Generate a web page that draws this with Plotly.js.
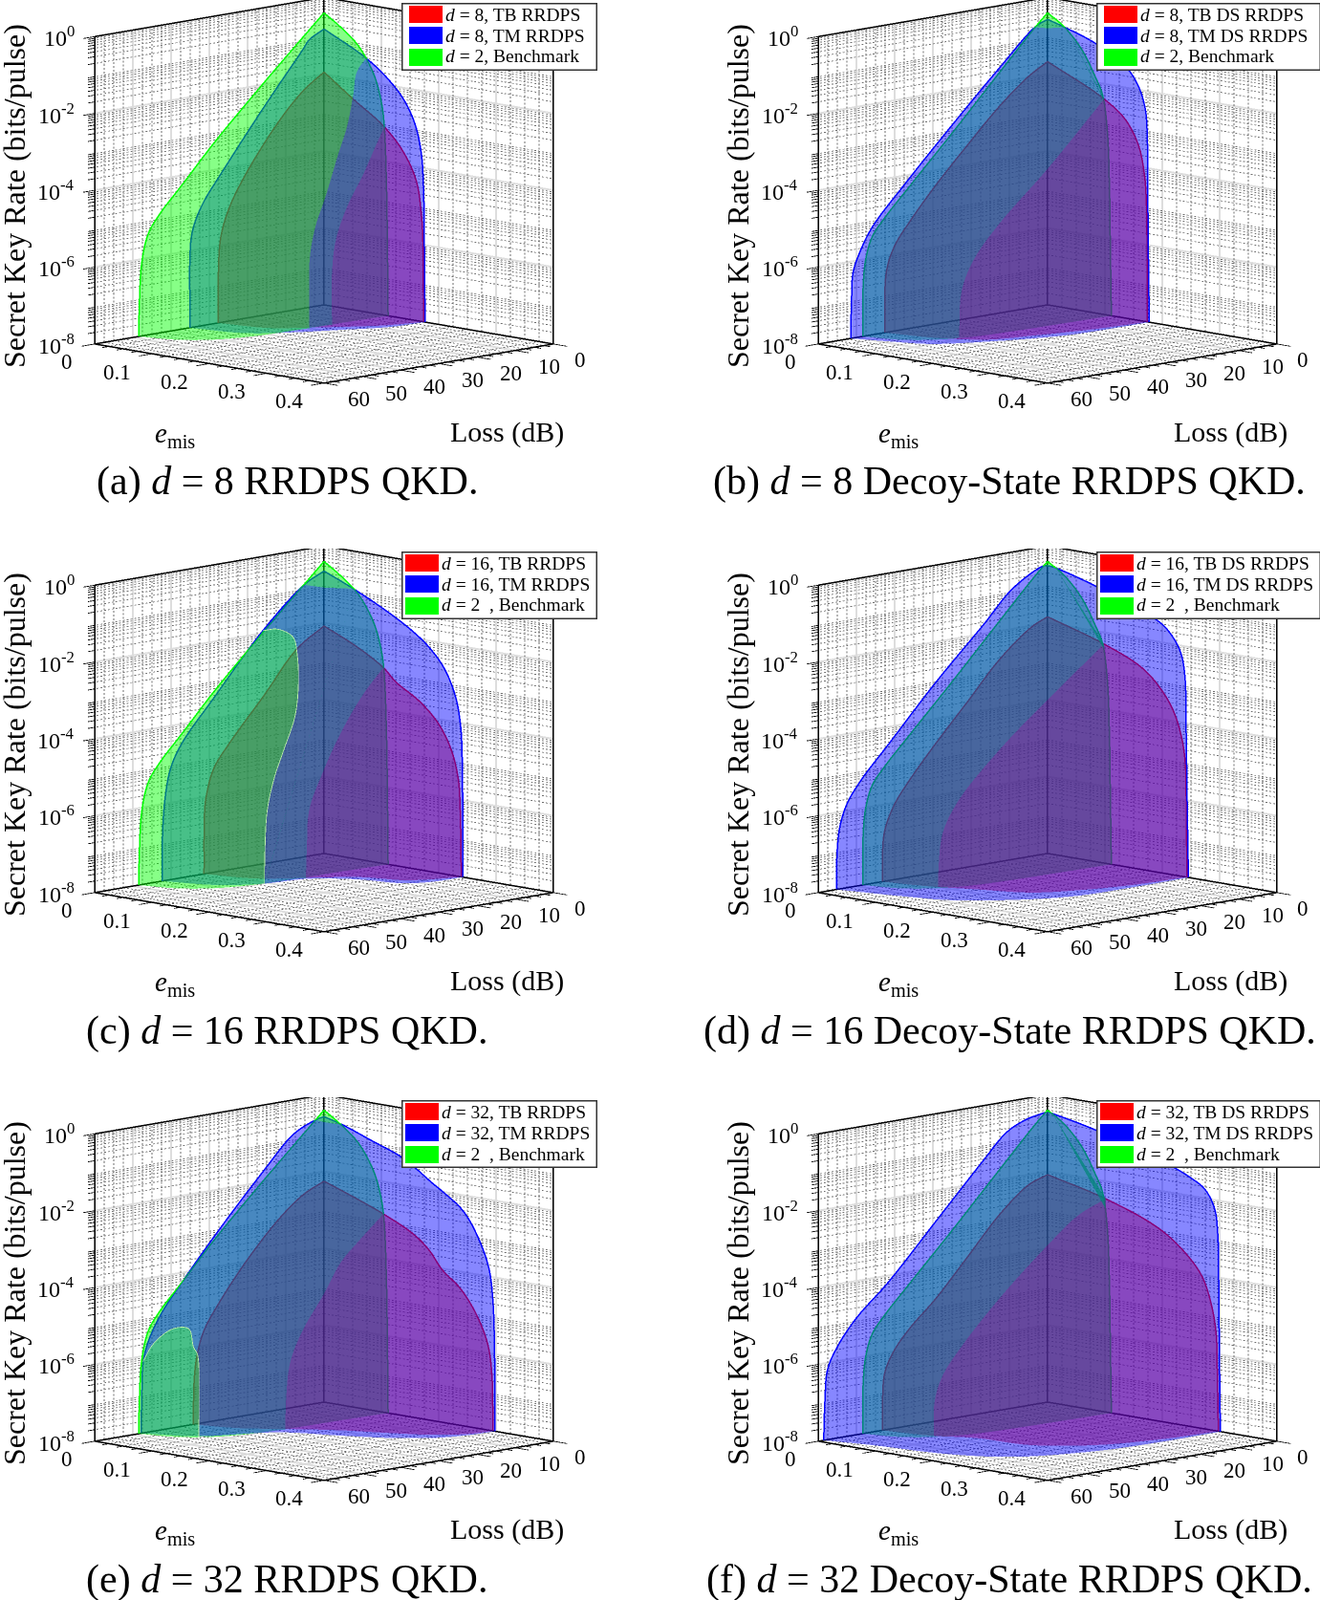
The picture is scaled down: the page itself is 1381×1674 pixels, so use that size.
<!DOCTYPE html>
<html><head><meta charset="utf-8">
<script src="https://cdn.plot.ly/plotly-3.0.1.min.js"></script>
<style>html,body{margin:0;padding:0;background:#fff}</style></head>
<body><div id="chart" style="width:1381px;height:1674px"></div>
<script>
// ---------- axes ----------
const lossTicks=[0,10,20,30,40,50,60];
const emisTicks=[0,0.1,0.2,0.3,0.4];
const rateExponents=[-8,-6,-4,-2,0];
const lossMax=60, emisMax=0.4, expMin=-8, expMax=0;

// ---------- benchmark (d = 2) ----------
// left wall [Loss, log10 R]; right wall [emis, log10 R]; floor [Loss, emis]
const benchLeft=[[0,-0.4],[15.6,-1.94],[28.9,-3.31],[37.25,-4.26],[43.1,-4.92],[46,-5.37],[47.7,-6.09],[48.3,-7.08],[48.5,-8]];
const benchRight=[[0,-0.4],[0.0292,-0.7],[0.0567,-1.05],[0.0733,-1.39],[0.0898,-1.89],[0.1008,-2.53],[0.1052,-3.1],[0.1091,-4.67],[0.1107,-6.34],[0.1118,-8]];
const benchFloor=[[48.5,0],[46,0.05],[41,0.082],[34,0.098],[24,0.105],[11,0.108],[0,0.1118]];
const benchDsLeft=[[0,-0.4],[3.25,-0.72],[12.6,-1.74],[25.1,-3.12],[35.9,-4.28],[42.6,-5.01],[45.9,-5.45],[47.6,-6.01],[48.25,-6.67],[48.4,-8]];
const benchDsRight=[[0,-0.4],[0.0298,-0.7],[0.06,-1.21],[0.0821,-1.82],[0.0959,-2.29],[0.1041,-3.19],[0.108,-4.68],[0.1096,-6.34],[0.1113,-8]];
const benchDsFloor=[[48.4,0],[46,0.05],[41,0.082],[34,0.098],[24,0.105],[11,0.109],[0,0.1113]];

// ---------- (a) ----------
const aBlueLeft=[[0,-0.82],[3.9,-1.04],[5.6,-1.27],[15.6,-2.57],[27.25,-4.17],[31.4,-4.77],[33.9,-5.31],[34.9,-5.8],[35.1,-8]];
const aBlueRight=[[0,-0.82],[0.0733,-1.39],[0.1118,-1.84],[0.1394,-2.31],[0.1587,-2.89],[0.1697,-3.62],[0.1736,-4.52],[0.1752,-6.18],[0.1763,-8]];
const aBlueFloor=[[35.1,0],[32,0.076],[25,0.114],[17,0.142],[8.6,0.17],[0,0.1763]];
const aRedLeft=[[0,-1.94],[5.6,-2.35],[12.25,-3.08],[20.6,-4.27],[24.75,-5.04],[26.8,-5.67],[27.5,-6.25],[27.7,-8]];
const aRedRight=[[0,-1.94],[0.0485,-2.49],[0.1052,-3.1],[0.1394,-3.69],[0.1614,-4.38],[0.1697,-5.2],[0.1725,-5.86],[0.1736,-8]];
const aRedFloor=[[27.7,0],[25,0.07],[19,0.105],[12.3,0.139],[7.1,0.16],[0,0.1736]];
const aCrossBlue=[[0,0.0733,-1.39],[1.8,0.069,-1.74],[3.6,0.075,-2.28],[6,0.08,-3.06],[9,0.084,-3.75],[12,0.082,-4.8],[15,0.085,-5.49],[17.4,0.091,-6.27],[18.6,0.098,-7.31],[19.6,0.105,-8]];
const aCrossRed=[[0,0.1052,-3.1],[1.2,0.098,-3.6],[3,0.088,-4.34],[6,0.08,-5.15],[8.4,0.077,-5.95],[10.8,0.086,-6.72],[14.2,0.1085,-8]];

// ---------- (b) ----------
const bBlueLeft=[[0,-0.57],[3.25,-0.71],[12.6,-1.62],[25.1,-2.91],[37.6,-4.25],[45.9,-5.2],[49.25,-5.82],[50.9,-6.29],[51.3,-6.95],[51.5,-8]];
const bBlueRight=[[0,-0.57],[0.0298,-0.7],[0.0848,-0.99],[0.1372,-1.46],[0.1592,-1.93],[0.1702,-2.45],[0.1736,-3.02],[0.1747,-4.52],[0.1758,-6.18],[0.1774,-8]];
const bBlueFloor=[[51.5,0],[48.8,0.048],[45.4,0.097],[36.2,0.135],[21.6,0.171],[7,0.177],[0,0.1774]];
const bRedLeft=[[0,-1.67],[5.1,-1.98],[12.6,-2.62],[20.9,-3.48],[29.25,-4.39],[35.9,-5.2],[40.1,-5.8],[42.2,-6.43],[42.6,-8]];
const bRedRight=[[0,-1.67],[0.0986,-2.39],[0.1372,-2.86],[0.1592,-3.47],[0.1691,-4.2],[0.1725,-4.94],[0.1736,-6.19],[0.1741,-8]];
const bRedFloor=[[42.6,0],[40,0.07],[34.6,0.125],[25.7,0.144],[12.4,0.165],[0,0.1741]];
const bCrossTip=[[3.25,0,-0.72],[1.2,0.008,-0.76],[0,0.0298,-0.7]];
const bCrossRed=[[0,0.0986,-2.39],[15,0.1,-3.95],[27,0.096,-5.18],[31.8,0.084,-6.05],[35.4,0.086,-6.82],[36.75,0.0906,-8]];

// ---------- (c) ----------
const cBlueLeft=[[0,-0.65],[5.2,-0.92],[16,-1.93],[28.9,-3.47],[37.25,-4.51],[40.2,-5.12],[41.6,-5.86],[42.25,-6.76],[42.4,-8]];
const cBlueRight=[[0,-0.65],[0.0512,-0.98],[0.1063,-1.39],[0.1504,-1.78],[0.1835,-2.17],[0.211,-2.68],[0.2303,-3.38],[0.2386,-4.12],[0.2408,-4.77],[0.2419,-6.02],[0.2419,-8]];
const cBlueFloor=[[42.4,0],[38,0.07],[30.9,0.102],[21.3,0.116],[15.5,0.161],[12.4,0.223],[7,0.24],[0,0.2419]];
const cRedLeft=[[0,-2.08],[7.25,-2.57],[15.6,-3.61],[24.75,-4.71],[28.9,-5.31],[30.75,-5.95],[31.25,-6.36],[31.4,-8]];
const cRedRight=[[0,-2.08],[0.0567,-2.47],[0.1036,-2.9],[0.1256,-3.22],[0.1669,-3.62],[0.2,-4.12],[0.222,-4.74],[0.2342,-5.46],[0.2375,-6.2],[0.2397,-8]];
const cRedFloor=[[31.4,0],[28,0.07],[20.5,0.111],[13.4,0.152],[10,0.207],[5,0.228],[0,0.2397]];
const cCrossTip=[[5.2,0,-0.92],[1.2,0.008,-1.04],[0,0.0512,-0.98]];
const cCrossBlob=[[16,0,-1.93],[15,0.019,-1.86],[12,0.026,-2.1],[12,0.033,-2.5],[15,0.055,-3.31],[18,0.069,-3.97],[22.8,0.082,-4.7],[25.8,0.085,-5.39],[28.2,0.089,-6.17],[30,0.097,-7.12],[30.9,0.102,-8]];
const cCrossRed=[[0,0.1036,-2.9],[3,0.088,-3.59],[7.2,0.077,-4.55],[12,0.076,-5.56],[16.8,0.086,-6.37],[19.8,0.102,-7.28],[21.4,0.111,-8]];

// ---------- (d) ----------
const dBlueLeft=[[0,-0.51],[1.3,-0.5],[9.25,-0.96],[16.75,-1.76],[29.25,-3.05],[40.9,-4.37],[49.25,-5.32],[52.6,-5.84],[54.4,-6.4],[55.1,-7.06],[55.25,-8]];
const dBlueRight=[[0,-0.51],[0.0132,-0.53],[0.0821,-0.82],[0.1813,-1.37],[0.2088,-1.64],[0.2309,-2.13],[0.2391,-2.7],[0.2419,-4.36],[0.2435,-6.02],[0.2457,-8]];
const dBlueFloor=[[55.25,0],[51.7,0.095],[48.3,0.156],[37.2,0.22],[28.4,0.243],[16.4,0.247],[7,0.247],[0,0.2457]];
const dRedLeft=[[0,-1.84],[4.25,-2.04],[12.6,-2.74],[20.9,-3.69],[29.25,-4.64],[35.9,-5.45],[40.1,-6.05],[42.6,-6.67],[43.2,-7.25],[43.25,-8]];
const dRedRight=[[0,-1.84],[0.0986,-2.3],[0.1647,-2.75],[0.1978,-3.22],[0.2198,-3.74],[0.2336,-4.37],[0.2402,-5.02],[0.2419,-6.02],[0.243,-8]];
const dRedFloor=[[43.25,0],[41,0.06],[37,0.119],[32.1,0.186],[24.1,0.215],[13.3,0.235],[0,0.243]];
const dCrossTip=[[1.3,0,-0.5],[0,0.0132,-0.53]];
const dCrossRed=[[0,0.0986,-2.3],[15,0.1,-3.49],[27,0.096,-4.6],[36,0.084,-5.81],[39.6,0.081,-6.59],[40.8,0.082,-7.41],[41,0.0826,-8]];

// ---------- (e) ----------
const eBlueLeft=[[0,-0.57],[2.25,-0.62],[8.1,-0.9],[15.6,-1.69],[28.9,-3.22],[37.25,-4.26],[42.25,-4.92],[45.6,-5.54],[47.25,-6.1],[47.7,-7.09],[47.9,-8]];
const eBlueRight=[[0,-0.57],[0.032,-0.7],[0.0843,-0.99],[0.1394,-1.31],[0.189,-1.82],[0.2055,-1.98],[0.2441,-2.43],[0.2716,-3.12],[0.2882,-3.82],[0.2948,-4.64],[0.2975,-5.89],[0.2981,-8]];
const eBlueFloor=[[47.9,0],[42.7,0.065],[29.2,0.114],[23.5,0.186],[19,0.239],[12.8,0.28],[6,0.295],[0,0.2981]];
const eRedLeft=[[0,-2.25],[5.6,-2.52],[12.25,-3.08],[20.6,-4.02],[27.25,-4.92],[31.4,-5.6],[33.1,-6.16],[33.9,-6.73],[34.25,-8]];
const eRedRight=[[0,-2.25],[0.0567,-2.56],[0.1036,-2.84],[0.1559,-3.23],[0.1835,-3.58],[0.2055,-4.02],[0.2386,-4.45],[0.2661,-5.05],[0.2854,-5.75],[0.2926,-6.48],[0.2948,-8]];
const eRedFloor=[[34.25,0],[31,0.06],[25.7,0.103],[19.4,0.159],[15.2,0.214],[10.5,0.265],[5,0.29],[0,0.2948]];
const eCrossTip=[[2.25,0,-0.62],[1,0.007,-0.68],[0,0.032,-0.7]];
const eCrossBlob=[[47.4,0,-6.14],[45.6,0.007,-5.68],[42,0.016,-5.34],[39,0.024,-5.37],[39.6,0.036,-5.79],[40.8,0.052,-5.98],[42,0.062,-7.02],[42.6,0.0654,-8]];
const eCrossRed=[[0,0.1036,-2.84],[3,0.077,-3.62],[7.2,0.077,-4.05],[12,0.079,-4.8],[18,0.083,-5.61],[22.8,0.093,-6.34],[25.2,0.102,-7.19],[26.2,0.107,-8]];

// ---------- (f) ----------
const fBlueLeft=[[0,-0.44],[5.9,-0.56],[10.9,-0.81],[16.75,-1.42],[29.25,-2.8],[41.75,-4.18],[50.1,-4.97],[55.1,-5.64],[57.6,-6.18],[58.25,-6.92],[58.6,-8]];
const fBlueRight=[[0,-0.44],[0.0821,-0.7],[0.2088,-1.27],[0.2474,-1.51],[0.2749,-1.77],[0.2915,-2.23],[0.297,-2.89],[0.2986,-4.22],[0.2997,-5.88],[0.3014,-8]];
const fBlueFloor=[[58.6,0],[55.9,0.068],[52.6,0.185],[46.1,0.252],[31.4,0.292],[16.8,0.302],[0,0.3014]];
const fRedLeft=[[0,-2.08],[5.1,-2.27],[12.6,-2.91],[20.9,-3.86],[29.25,-4.81],[35.9,-5.45],[40.1,-5.97],[42.6,-6.51],[43.2,-7.25],[43.25,-8]];
const fRedRight=[[0,-2.08],[0.1014,-2.45],[0.1923,-2.97],[0.2364,-3.45],[0.2694,-4.04],[0.286,-4.75],[0.2942,-5.48],[0.2959,-6.31],[0.2981,-8]];
const fRedFloor=[[43.25,0],[41,0.07],[37,0.119],[35.1,0.206],[26.8,0.261],[14.3,0.288],[0,0.2981]];
const fCrossTip=[[0.5,0,-0.46],[0,0.005,-0.44]];
const fCrossRed=[[0,0.1014,-2.45],[1.8,0.067,-2.92],[12,0.08,-3.51],[25.2,0.084,-4.66],[34.8,0.082,-5.75],[38.4,0.073,-6.47],[39.9,0.069,-7.12],[40.6,0.072,-8]];

// ---------- text ----------
const captions=['(a) <i>d</i> = 8 RRDPS QKD.','(b) <i>d</i> = 8 Decoy-State RRDPS QKD.','(c) <i>d</i> = 16 RRDPS QKD.','(d) <i>d</i> = 16 Decoy-State RRDPS QKD.','(e) <i>d</i> = 32 RRDPS QKD.','(f) <i>d</i> = 32 Decoy-State RRDPS QKD.'];
const legendA=[['<i>d</i> = 8, TB RRDPS','<i>d</i> = 8, TM RRDPS','<i>d</i> = 2, Benchmark'],['<i>d</i> = 8, TB DS RRDPS','<i>d</i> = 8, TM DS RRDPS','<i>d</i> = 2, Benchmark']];
const legendB=[['<i>d</i> = 16, TB RRDPS','<i>d</i> = 16, TM RRDPS','<i>d</i> = 2  , Benchmark'],['<i>d</i> = 16, TB DS RRDPS','<i>d</i> = 16, TM DS RRDPS','<i>d</i> = 2  , Benchmark']];
const legendC=[['<i>d</i> = 32, TB RRDPS','<i>d</i> = 32, TM RRDPS','<i>d</i> = 2  , Benchmark'],['<i>d</i> = 32, TB DS RRDPS','<i>d</i> = 32, TM DS RRDPS','<i>d</i> = 2  , Benchmark']];
const colours={red:'rgb(255,0,0)',blue:'rgb(0,0,255)',green:'rgb(0,255,0)'};

const panels=[
 {col:0,row:0,cap:captions[0],leg:legendA[0],gL:benchLeft,gR:benchRight,gF:benchFloor,bL:aBlueLeft,bR:aBlueRight,bF:aBlueFloor,rL:aRedLeft,rR:aRedRight,rF:aRedFloor,crossBlue:aCrossBlue,crossRed:aCrossRed},
 {col:1,row:0,cap:captions[1],leg:legendA[1],gL:benchDsLeft,gR:benchDsRight,gF:benchDsFloor,bL:bBlueLeft,bR:bBlueRight,bF:bBlueFloor,rL:bRedLeft,rR:bRedRight,rF:bRedFloor,tip:bCrossTip,crossRed:bCrossRed},
 {col:0,row:1,cap:captions[2],leg:legendB[0],gL:benchLeft,gR:benchRight,gF:benchFloor,bL:cBlueLeft,bR:cBlueRight,bF:cBlueFloor,rL:cRedLeft,rR:cRedRight,rF:cRedFloor,tip:cCrossTip,blob:cCrossBlob,crossRed:cCrossRed},
 {col:1,row:1,cap:captions[3],leg:legendB[1],gL:benchDsLeft,gR:benchDsRight,gF:benchDsFloor,bL:dBlueLeft,bR:dBlueRight,bF:dBlueFloor,rL:dRedLeft,rR:dRedRight,rF:dRedFloor,tip:dCrossTip,crossRed:dCrossRed},
 {col:0,row:2,cap:captions[4],leg:legendC[0],gL:benchLeft,gR:benchRight,gF:benchFloor,bL:eBlueLeft,bR:eBlueRight,bF:eBlueFloor,rL:eRedLeft,rR:eRedRight,rF:eRedFloor,tip:eCrossTip,blob:eCrossBlob,crossRed:eCrossRed},
 {col:1,row:2,cap:captions[5],leg:legendC[1],gL:benchDsLeft,gR:benchDsRight,gF:benchDsFloor,bL:fBlueLeft,bR:fBlueRight,bF:fBlueFloor,rL:fRedLeft,rR:fRedRight,rF:fRedFloor,tip:fCrossTip,crossRed:fCrossRed}
];

// ---------- layout constants ----------
const W=1381,H=1674;
const colCentre=[339,1095.5], rowTop=[0,574,1148];
const sceneHalfW=285, sceneH=480;
const CAM_D=4, CAM_H=0.245, CAM_PAN=-0.173;
const ASPECT_XY=1.696, ASPECT_Z=1.70;
const ALPHA=0.47;
const serif='"Liberation Serif","DejaVu Serif",serif';

// ---------- helpers ----------
// rounded drawing of a read curve (line shape only: it passes through every read value)
function smooth(pts,scales){
  if(pts.length<3) return pts;
  const dist=(a,b)=>{let s=0;a.forEach((v,i)=>{s+=Math.pow((v-b[i])/scales[i],2);});return Math.max(Math.pow(s,0.25),1e-4);};
  const out=[];
  for(let i=0;i<pts.length-1;i++){
    const p1=pts[i],p2=pts[i+1];
    const p0=i>0?pts[i-1]:p1.map((v,d)=>2*v-p2[d]);
    const p3=i<pts.length-2?pts[i+2]:p2.map((v,d)=>2*v-p1[d]);
    const t1=dist(p0,p1),t2=t1+dist(p1,p2),t3=t2+dist(p2,p3);
    out.push(p1);
    for(let s=1;s<6;s++){
      const t=t1+(t2-t1)*s/6;
      out.push(p1.map((_,d)=>{
        const A1=((t1-t)*p0[d]+t*p1[d])/t1;
        const A2=((t2-t)*p1[d]+(t-t1)*p2[d])/(t2-t1);
        const A3=((t3-t)*p2[d]+(t-t2)*p3[d])/(t3-t2);
        const B1=((t2-t)*A1+t*A2)/t2;
        const B2=((t3-t)*A2+(t-t1)*A3)/(t3-t1);
        return ((t2-t)*B1+(t-t1)*B2)/(t2-t1);
      }));
    }
  }
  out.push(pts[pts.length-1]);
  return out;
}
const left3=a=>smooth(a,[lossMax,8]).map(p=>[p[0],0,p[1]]);
const right3=a=>smooth(a,[emisMax,8]).map(p=>[0,Math.max(p[0],0),p[1]]);
const floor3=a=>smooth(a,[lossMax,emisMax]).map(p=>[Math.max(p[0],0),Math.max(p[1],0),expMin]);
const cross3=a=>smooth(a,[lossMax,emisMax,8]).map(p=>[Math.max(p[0],0),Math.max(p[1],0),p[2]]);
const rev=a=>a.slice().reverse();
function cleanPoly(pts){
  const out=[];
  pts.forEach(p=>{const q=out[out.length-1];
    if(!q||Math.abs(q[0]-p[0])+Math.abs(q[1]-p[1])*100+Math.abs(q[2]-p[2])>1e-6) out.push(p);});
  while(out.length>1){const a=out[0],b=out[out.length-1];
    if(Math.abs(a[0]-b[0])+Math.abs(a[1]-b[1])*100+Math.abs(a[2]-b[2])<1e-6) out.pop(); else break;}
  return out;
}
function triangulate(pts){
  const P=pts.map(p=>{const a=p[1]/emisMax,b=p[0]/lossMax;return [723*(a-b),118*(a+b)-120*(p[2]-expMin)];});
  let area=0;P.forEach((p,i)=>{const q=P[(i+1)%P.length];area+=p[0]*q[1]-q[0]*p[1];});
  const sgn=area>0?1:-1, idx=P.map((_,i)=>i), tris=[];
  const cr=(a,b,c)=>(P[b][0]-P[a][0])*(P[c][1]-P[a][1])-(P[b][1]-P[a][1])*(P[c][0]-P[a][0]);
  let guard=0;
  while(idx.length>3&&guard++<5000){
    let done=false;
    for(let k=0;k<idx.length;k++){
      const a=idx[(k+idx.length-1)%idx.length],b=idx[k],c=idx[(k+1)%idx.length];
      if(sgn*cr(a,b,c)<=1e-9) continue;
      let ok=true;
      for(const m of idx){ if(m===a||m===b||m===c) continue;
        if(sgn*cr(a,b,m)>=0&&sgn*cr(b,c,m)>=0&&sgn*cr(c,a,m)>=0){ok=false;break;} }
      if(ok){tris.push([a,b,c]);idx.splice(k,1);done=true;break;}
    }
    if(!done){
      let best=0,bv=Infinity;
      for(let k=0;k<idx.length;k++){const a=idx[(k+idx.length-1)%idx.length],b=idx[k],c=idx[(k+1)%idx.length];
        const v=Math.abs(cr(a,b,c)); if(v<bv){bv=v;best=k;}}
      idx.splice(best,1);
    }
  }
  if(idx.length===3) tris.push(idx.slice());
  return tris;
}
function meshTrace(polys,colour,scene){
  const x=[],y=[],z=[],i=[],j=[],k=[];
  polys.forEach(raw=>{
    const pts=cleanPoly(raw); if(pts.length<3) return;
    const o=x.length;
    pts.forEach(p=>{x.push(p[0]);y.push(p[1]);z.push(Math.pow(10,p[2]));});
    triangulate(pts).forEach(t=>{i.push(t[0]+o);j.push(t[1]+o);k.push(t[2]+o);});
  });
  return {type:'mesh3d',scene,x,y,z,i,j,k,color:colour,opacity:ALPHA,flatshading:true,
    lighting:{ambient:1,diffuse:0,specular:0,roughness:1,fresnel:0},hoverinfo:'skip',showscale:false};
}
function lineTrace(segs,colour,width,scene){
  const x=[],y=[],z=[];
  segs.forEach(s=>{s.forEach(p=>{x.push(p[0]);y.push(p[1]);z.push(Math.pow(10,p[2]));});x.push(null);y.push(null);z.push(null);});
  return {type:'scatter3d',mode:'lines',scene,x,y,z,opacity:0.99,connectgaps:false,
    line:{color:colour,width},hoverinfo:'skip',showlegend:false};
}
function range(a,b,s){const o=[];for(let v=a;v<=b+s*1e-6;v+=s)o.push(+v.toFixed(5));return o;}
const minorExp=[];for(let d=expMin;d<expMax;d++)for(let m=2;m<=9;m++)minorExp.push(d+Math.log10(m));
const minorLoss=range(0,lossMax,2.5).filter(v=>v%10!==0);
const minorEmis=range(0,emisMax,0.025).filter(v=>Math.abs(v*10-Math.round(v*10))>1e-6);

function gridSegs(ls,es,zs){
  const s=[];
  ls.forEach(L=>{s.push([[L,0,expMin],[L,0,expMax]]);s.push([[L,0,expMin],[L,emisMax,expMin]]);});
  es.forEach(e=>{s.push([[0,e,expMin],[0,e,expMax]]);s.push([[0,e,expMin],[lossMax,e,expMin]]);});
  zs.forEach(z=>{s.push([[0,0,z],[lossMax,0,z]]);s.push([[0,0,z],[0,emisMax,z]]);});
  return s;
}
function dotted(segs,nHoriz,nVert){
  const out=[];
  segs.forEach(([a,b])=>{
    const n=(a[2]!==b[2])?nVert:nHoriz;
    for(let t=0;t<n;t++){
      const u=t/n,v=(t+0.5)/n;
      out.push([[a[0]+(b[0]-a[0])*u,a[1]+(b[1]-a[1])*u,a[2]+(b[2]-a[2])*u],
                [a[0]+(b[0]-a[0])*v,a[1]+(b[1]-a[1])*v,a[2]+(b[2]-a[2])*v]]);
    }
  });
  return out;
}
const majorGrid=gridSegs(lossTicks,emisTicks,rateExponents);
const minorGrid=dotted(gridSegs(minorLoss,minorEmis,minorExp),61,80);
const boxEdges=[
 [[0,0,expMin],[0,0,expMax]],[[0,0,expMin],[lossMax,0,expMin]],[[0,0,expMin],[0,emisMax,expMin]],
 [[0,0,expMax],[lossMax,0,expMax]],[[0,0,expMax],[0,emisMax,expMax]],
 [[lossMax,0,expMin],[lossMax,0,expMax]],[[0,emisMax,expMin],[0,emisMax,expMax]],
 [[lossMax,0,expMin],[lossMax,emisMax,expMin]],[[0,emisMax,expMin],[lossMax,emisMax,expMin]]
];
const tickSegs=[];
rateExponents.forEach(z=>tickSegs.push([[lossMax,0,z],[lossMax+3,0,z]]));
minorExp.forEach(z=>tickSegs.push([[lossMax,0,z],[lossMax+1.8,0,z]]));
emisTicks.forEach(e=>tickSegs.push([[lossMax,e,expMin],[lossMax+3.4,e,expMin]]));
minorEmis.forEach(e=>tickSegs.push([[lossMax,e,expMin],[lossMax+1.8,e,expMin]]));
lossTicks.forEach(L=>tickSegs.push([[L,emisMax,expMin],[L,emisMax+0.024,expMin]]));
minorLoss.forEach(L=>tickSegs.push([[L,emisMax,expMin],[L,emisMax+0.012,expMin]]));

// ---------- build ----------
const traces=[];const layout={width:W,height:H,margin:{l:0,r:0,t:0,b:0},paper_bgcolor:'#fff',showlegend:false,annotations:[]};
const hidden=r=>({visible:false,range:r,autorange:false,showgrid:false,showspikes:false,zeroline:false,showbackground:false});
function paperText(text,px,py,size,opts){
  layout.annotations.push(Object.assign({text,xref:'paper',yref:'paper',x:px/W,y:1-py/H,showarrow:false,
    font:{family:serif,size,color:'#000'},xanchor:'center',yanchor:'middle',borderpad:0,borderwidth:0},opts||{}));
}
function paperBox(px,py,w,h,fill,border,bw){
  layout.annotations.push({text:' ',xref:'paper',yref:'paper',x:px/W,y:1-py/H,showarrow:false,width:w,height:h,
    bgcolor:fill,bordercolor:border,borderwidth:bw,borderpad:0,xanchor:'left',yanchor:'top',font:{size:10}});
}
panels.forEach((p,n)=>{
  const sid=n===0?'scene':'scene'+(n+1);
  const sref=sid;
  const cx=colCentre[p.col], top=rowTop[p.row];
  const GL=left3(p.gL),GR=right3(p.gR),GF=floor3(p.gF);
  const S2=cross3(p.crossRed), Lb2=S2[S2.length-1][0], et2=S2[0][1];
  const gTop=[],gMid=[],gBot=[];
  gBot.push([...S2,...GF.filter(q=>q[0]<Lb2),...rev(GR.filter(q=>q[1]>et2))]);
  let blobLine=null;
  if(p.crossBlue){
    const S1=cross3(p.crossBlue),Lb1=S1[S1.length-1][0],et1=S1[0][1];
    gTop.push([...GL,...GF.filter(q=>q[0]>Lb1),...rev(S1),...rev(GR.filter(q=>q[1]<et1))]);
    gMid.push([...S1,...GF.filter(q=>q[0]<Lb1&&q[0]>Lb2),...rev(S2),...rev(GR.filter(q=>q[1]>et1&&q[1]<et2))]);
  } else {
    const S1=p.tip,La=S1[0][0],et1=S1[S1.length-1][1];
    gTop.push([...GL.filter(q=>q[0]<La),...S1,...rev(GR.filter(q=>q[1]<et1))]);
    if(p.blob){
      const S3=cross3(p.blob),L3=S3[0][0],Lb3=S3[S3.length-1][0];
      blobLine=S3;
      gTop.push([...GL.filter(q=>q[0]>L3),...GF.filter(q=>q[0]>Lb3),...rev(S3)]);
      gMid.push([...rev(S1),...GL.filter(q=>q[0]>La&&q[0]<L3),...S3,...GF.filter(q=>q[0]<Lb3&&q[0]>Lb2),...rev(S2),...rev(GR.filter(q=>q[1]>et1&&q[1]<et2))]);
    } else {
      gMid.push([...rev(S1),...GL.filter(q=>q[0]>La),...GF.filter(q=>q[0]>Lb2),...rev(S2),...rev(GR.filter(q=>q[1]>et1&&q[1]<et2))]);
    }
  }
  const redPoly=[[...left3(p.rL),...floor3(p.rF),...rev(right3(p.rR))]];
  const bluePoly=[[...left3(p.bL),...floor3(p.bF),...rev(right3(p.bR))]];

  traces.push(lineTrace(majorGrid,'#dcdcdc',4,sref));
  traces.push(lineTrace(minorGrid,'#6c6c6c',1.7,sref));
  traces.push(lineTrace(boxEdges,'#000',3,sref));
  traces.push(lineTrace(tickSegs,'#000',1.6,sref));
  traces.push(lineTrace([left3(p.rL),right3(p.rR)],colours.red,3,sref));
  traces.push(lineTrace([left3(p.bL),right3(p.bR)],colours.blue,3,sref));
  traces.push(lineTrace([GL,GR],colours.green,3,sref));
  traces.push(meshTrace(gBot,colours.green,sref));
  traces.push(meshTrace(redPoly,colours.red,sref));
  traces.push(meshTrace(gMid,colours.green,sref));
  traces.push(meshTrace(bluePoly,colours.blue,sref));
  traces.push(meshTrace(gTop,colours.green,sref));
  if(blobLine) traces.push(lineTrace([blobLine],'rgb(190,240,170)',1.6,sref));

  const k=CAM_D;
  const ann=[];
  const lab=(text,x,y,exp,xs,ys,xa,size)=>ann.push({text,x,y,z:exp,showarrow:false,xshift:xs,yshift:ys,xanchor:xa||'center',yanchor:'middle',font:{family:serif,size:size||23,color:'#000'}});
  rateExponents.forEach(z=>lab('10<sup>'+z+'</sup>',lossMax,0,z,-19,0,'right',24));
  emisTicks.forEach(e=>lab(String(e),lossMax,e,expMin,e===0?-29:-37,-19));
  lossTicks.forEach(L=>lab(String(L),L,emisMax,expMin,L===0?28:36,-17));
  layout[sid]={
    domain:{x:[(cx-sceneHalfW)/W,Math.min(1,(cx+sceneHalfW)/W)],y:[1-(top+sceneH)/H,1-top/H]},
    aspectmode:'manual',aspectratio:{x:ASPECT_XY,y:ASPECT_XY,z:ASPECT_Z},
    xaxis:hidden([-6,66]),yaxis:hidden([-0.04,0.44]),zaxis:Object.assign(hidden([-9,1]),{type:'log'}),
    bgcolor:'rgba(0,0,0,0)',annotations:ann,
    camera:{eye:{x:k,y:k,z:k*CAM_H+CAM_PAN},center:{x:0,y:0,z:CAM_PAN},up:{x:0,y:0,z:1},projection:{type:'orthographic'}}
  };
  const lx=p.col===0?0:757;
  paperText('Secret Key Rate (bits/pulse)',lx+15,top+205,32,{textangle:-90});
  paperText('<i>e</i><sub>mis</sub>',lx+183,top+455,29);
  paperText('Loss (dB)',lx+530,top+452,30);
  paperText(p.cap,p.col===0?300:1056,top+504,42);
  const bx=p.col===0?420:1147, bw=p.col===0?202:232, sx=p.col===0?(p.row===0?428:424):(p.row===0?1155:1151), tx=sx+38;
  paperBox(bx,top+3,bw,68,'#fff','#333',1.5);
  ['red','blue','green'].forEach((c,i)=>{
    paperBox(sx,top+6+i*22.3,35,18,colours[c],colours[c],0);
    paperText(p.leg[i],tx,top+15+i*22,19.5,{xanchor:'left'});
  });
});
Plotly.newPlot('chart',traces,layout,{displayModeBar:false,scrollZoom:false,doubleClick:false});
</script></body></html>
